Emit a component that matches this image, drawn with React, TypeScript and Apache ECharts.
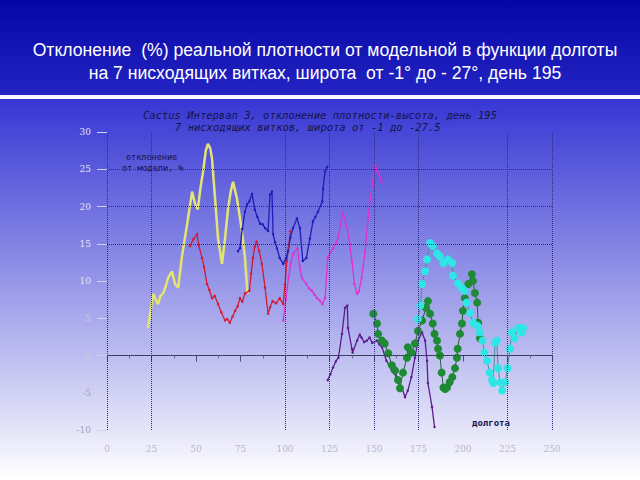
import React, { useEffect, useRef } from "react";
import * as echarts from "echarts";

const titleLines = [
  "Отклонение  (%) реальной плотности от модельной в функции долготы",
  "на 7 нисходящих витках, широта  от -1° до - 27°, день 195",
];
const innerTitle1 = "Cactus Интервал 3, отклонение плотности-высота, день 195";
const innerTitle2 = "7 нисходящих витков, широта от -1 до -27.5";
const yAxisName1 = "отклонение";
const yAxisName2 = "от модели, %";
const xAxisName = "долгота";

const xGridValues = [0, 25, 100, 125, 150, 175, 225, 250];
const yGridValues = [25, 20, 15, 0];

const yellowData = [
  [23, 3.7], [24.5, 6.0], [26, 8.3], [27.5, 7.4], [28.7, 6.9], [30, 8.0], [31.5, 8.3], [33, 9.3],
  [34.3, 10.4], [36.5, 11.3], [38.2, 9.6], [40, 9.1], [42, 13.1], [45, 17.6], [47.8, 22],
  [49.4, 20.4], [51, 19.6], [52.5, 22.5], [54, 24.7], [55.5, 27.5], [56.7, 28.4], [58, 27.8],
  [59, 26.4], [60.7, 21.1], [62.4, 15.7], [64.6, 12.3], [66.3, 15.7], [68, 19.7], [69.5, 22],
  [70.8, 23.3], [73, 21.1], [74.7, 18.4], [75.8, 16.7], [77.5, 13.1], [78.7, 9.1], [79, 8.3],
];

const redData = [
  [46.6, 14.7], [48.5, 15.6], [50.6, 16.3], [51.5, 14.8], [53.4, 13.1], [54.5, 11.9], [56.2, 9.6],
  [57.5, 8.8], [59, 7.7], [60.5, 8.0], [62.4, 6.9], [64.2, 5.8], [66.3, 4.7], [67.5, 4.9],
  [69, 4.4], [70.5, 5.2], [72, 6.0], [73.4, 6.6], [74.7, 7.7], [76, 7.2], [77.5, 8.3], [80, 8.7],
  [81, 11.0], [82, 13.1], [83, 14.6], [84, 15.3], [85.5, 14.0], [87, 12.3], [88.8, 9.1], [90.5, 5.6],
  [91.7, 6.5], [93, 7.3], [95, 7.0], [97, 7.7], [99, 6.9], [100, 9.5], [101, 12.7], [102, 14.5], [103, 16.7],
];

const blueData = [
  [73.6, 14.0], [74.7, 14.4], [76, 17.0], [77.5, 19.3], [78.7, 20.3], [80, 20.7], [81.5, 21.7],
  [83, 19.6], [84.5, 18.6], [86, 17.7], [87.5, 17.6], [88.8, 17.1], [90.5, 16.7], [91.6, 21.6],
  [92.7, 22], [93.3, 16.3], [94.4, 15.2], [95.5, 14.4], [97, 13.1], [99, 12.3], [100.5, 13.0],
  [101.7, 14], [103, 15.8], [104.5, 17.1], [106.7, 18.4], [108.4, 17.1], [110, 12.7], [112, 13.1],
  [114, 15.7], [115.7, 18], [117, 18.6], [118.5, 19.3], [121, 20.7], [121.4, 22.4], [122.5, 24.7], [123.6, 25.3],
];

const magentaData = [
  [99, 4.7], [100.5, 7.5], [102, 10.5], [103.3, 12.4], [104.5, 13.6], [107, 14.4], [108.2, 12.0],
  [109.5, 10.4], [112, 9.6], [113.5, 9.0], [115, 8.7], [116.5, 8.2], [118, 7.7], [119.5, 7.4],
  [121, 6.9], [122.5, 7.7], [124, 13.1], [125.5, 13.8], [127, 14.4], [128.5, 15.0], [130, 16],
  [131.3, 17.8], [132.5, 19.1], [135, 17.1], [136.3, 15.0], [137.6, 12.7], [139, 9.6], [140.5, 8.3],
  [141.5, 8.6], [143, 10.4], [145, 14], [146.6, 18.4], [149, 22.9], [150.6, 25.6], [152, 24.7], [154.5, 23.3],
];

const purpleData = [
  [124, -3.3], [125.5, -2.5], [127, -1.6], [128.5, -0.8], [130, -0.3], [132, 2.9], [133.7, 6.4],
  [135, 6.7], [135.4, 3.7], [137.6, 0.9], [138, 0.4], [140.5, 2], [142, 2.8], [143, 2.4],
  [144.5, 1.8], [146, 2], [147.5, 2.4], [149, 1.7], [151.7, 2], [153, 1.5], [154.5, 1.1],
  [157, -0.7], [160, -2], [161.5, -2.4], [163, -3.3], [165.7, -4.3], [167.4, -5.6], [169, -4.7],
  [171, -2.9], [173, -0.3], [174.7, 2], [177, 3.1], [178.7, 2], [179.8, -0.7], [180.3, -3.7],
  [182.6, -6.9], [184, -9.6],
];

const greenData = [
  [149.6, 5.6], [151.7, 4.3], [152.3, 2.9], [154.5, 2], [156, 1.6], [158, 0.3], [160, -1.3],
  [161.8, -2], [163.5, -3.3], [164.6, -4.4], [166.3, -2.3], [168.5, -0.3], [169, 1.1], [171, 0.4],
  [173, 1.6], [174.7, 3.3], [177, 4.7], [179.2, 6.4], [180.3, 7.3], [181.5, 5.6], [183, 4.3],
  [184, 2.9], [185.4, 2], [186, 0.9], [187, 0], [188, -2.3], [189, -4.3], [190, -4.5], [191, -4.3],
  [192.5, -3.6], [194, -2.9], [195.5, -1.7], [196.6, -0.3], [197, 0.9], [198.3, 2.9], [199.4, 4.3],
  [200, 6], [201, 7.7], [203, 9.6], [205, 10.9], [205.6, 10], [206.7, 8.4], [208, 7.1],
  [208.5, 4.4], [209.5, 2.3],
];

const cyanData = [
  [174.7, 4.9], [176, 6.7], [177, 9.6], [178.7, 11.3], [179.8, 12.9], [181.5, 15.1], [183, 14.7],
  [185.4, 13.7], [187, 13.3], [189, 12.4], [191.6, 12.9], [194, 12.4], [194.4, 10.7], [197.2, 9.7],
  [199.4, 9.1], [201, 8.7], [202, 7.1], [204, 5.7], [205.6, 4.4], [208, 4], [209.5, 3.1],
  [211, 2], [212, 0.4], [213.5, -0.7], [215, -2.3], [216.3, -3.3], [217, -3.7], [218, 1.7],
  [219, 2], [219.7, -1.7], [220.8, -3.6], [222, -4.7], [223.6, -3.6], [225, -1.7], [226.4, 0.9],
  [227.5, 3.1], [229, 2.3], [231, 3.7], [233, 3.1], [233.7, 3.7],
];

const plotFont = "DejaVu Sans Mono";

export default function App() {
  const ref = useRef<HTMLDivElement>(null);
  useEffect(() => {
    if (!ref.current) return;
    const chart = echarts.init(ref.current, null, { renderer: "svg" });
    const gridLine = { type: "dotted", color: "#2c2c78", width: 1 };
    const thinLine = (name: string, data: number[][], color: string, width: number) => ({
      name,
      type: "line",
      data,
      symbol: "circle",
      symbolSize: 2.5,
      showSymbol: true,
      lineStyle: { color, width },
      itemStyle: { color },
      z: 3,
    });
    chart.setOption({
      animation: false,
      backgroundColor: "transparent",
      title: {
        text: titleLines.join("\n"),
        left: 320,
        top: 33,
        textAlign: "center",
        textStyle: {
          color: "#ffffff",
          fontSize: 17.6,
          fontWeight: "normal",
          fontFamily: "Liberation Sans, Arial, sans-serif",
          lineHeight: 23,
          align: "center",
        },
      },
      grid: { left: 107, right: 88, top: 132, bottom: 50 },
      xAxis: {
        type: "value",
        min: 0,
        max: 250,
        interval: 25,
        axisLine: { show: true, lineStyle: { color: "#4c4c70", width: 1 } },
        axisTick: { show: true, length: 6, lineStyle: { color: "#4c4c70" } },
        minorTick: { show: true, splitNumber: 2, length: 3, lineStyle: { color: "#6a6a90" } },
        splitLine: { show: false },
        axisLabel: { color: "#b8b8cc", fontSize: 9, margin: 14, fontFamily: "DejaVu Serif" },
      },
      yAxis: {
        type: "value",
        min: -10,
        max: 30,
        interval: 5,
        axisLine: { show: false },
        axisTick: { show: true, length: 10, lineStyle: { color: "#d0d0ec" } },
        splitLine: { show: false },
        axisLabel: {
          color: (v: any) => (Number(v) < 0 ? "#a4a4c0" : Number(v) < 10 ? "#c8c8e4" : "#e2e2f4"),
          fontSize: 9,
          margin: 16,
          fontFamily: "DejaVu Serif",
        },
      },
      graphic: [
        { type: "text", left: "center", top: 109, style: { text: innerTitle1, fill: "#14144a", font: `italic 10.5px ${plotFont}` } },
        { type: "text", x: 175, y: 121, style: { text: innerTitle2, fill: "#14144a", font: `italic 10.5px ${plotFont}` } },
        { type: "text", x: 126, y: 152, style: { text: yAxisName1, fill: "#14144a", font: `8.5px ${plotFont}` } },
        { type: "text", x: 122, y: 163, style: { text: yAxisName2, fill: "#14144a", font: `8.5px ${plotFont}` } },
        { type: "text", x: 472, y: 418, style: { text: xAxisName, fill: "#14144a", font: `bold 9px ${plotFont}` } },
      ],
      series: [
        {
          ...thinLine("yellow", yellowData, "#e4e472", 2.5),
          showSymbol: false,
          markLine: {
            silent: true,
            symbol: ["none", "none"],
            label: { show: false },
            lineStyle: gridLine,
            data: [
              ...xGridValues.map((v) => ({ xAxis: v })),
              ...yGridValues.map((v) => ({ yAxis: v })),
            ],
          },
        },
        thinLine("red", redData, "#d41a32", 1.3),
        thinLine("blue", blueData, "#1e1eb8", 1.3),
        thinLine("magenta", magentaData, "#e030d0", 1.3),
        thinLine("purple", purpleData, "#5a1e8c", 1.3),
        {
          name: "green",
          type: "line",
          data: greenData,
          symbol: "circle",
          symbolSize: 8,
          lineStyle: { color: "#2a5a34", width: 1 },
          itemStyle: { color: "#1f8a34" },
          z: 4,
        },
        {
          name: "cyan",
          type: "line",
          data: cyanData,
          symbol: "circle",
          symbolSize: 8,
          lineStyle: { color: "#4a8aa0", width: 1 },
          itemStyle: { color: "#2ee6e6" },
          z: 4,
        },
      ],
    });
    return () => chart.dispose();
  }, []);
  return (
    <div
      ref={ref}
      style={{
        position: "fixed",
        left: 0,
        top: 0,
        width: 640,
        height: 480,
        background:
          "linear-gradient(to bottom, #0606a4 0px, #2424c4 95px, #f4f4ff 95px, #ffffff 99px, #3636d4 99px, #ffffff 480px)",
      }}
    />
  );
}
